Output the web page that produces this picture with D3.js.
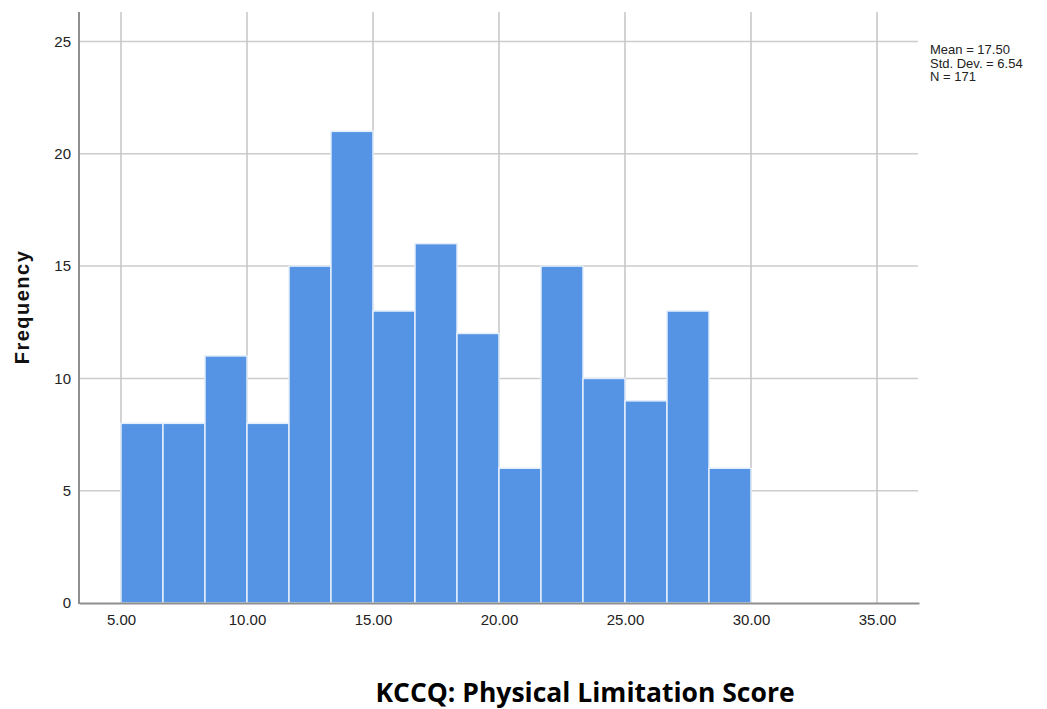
<!DOCTYPE html>
<html>
<head>
<meta charset="utf-8">
<script src="https://cdn.jsdelivr.net/npm/d3@7"></script>
<style>
  body { margin: 0; background: #fff; }
  svg { display: block; }
</style>
</head>
<body>
<div class="chart"></div>
<script>
// histogram bins: start of each bin, bin width 5/3
const binStarts = [5, 6.667, 8.333, 10, 11.667, 13.333, 15, 16.667, 18.333, 20, 21.667, 23.333, 25, 26.667, 28.333];
const binWidth = 1.6667;
const counts = [8, 8, 11, 8, 15, 21, 13, 16, 12, 6, 15, 10, 9, 13, 6];
const xTicks = [5, 10, 15, 20, 25, 30, 35];
const yTicks = [0, 5, 10, 15, 20, 25];
const statLines = ["Mean = 17.50", "Std. Dev. = 6.54", "N = 171"];

const sansFont = "'Liberation Sans', Arial, sans-serif";

function drawHistogram() {
  const width = 1047;
  const height = 709;
  const plot = {left: 79, right: 919, top: 12, bottom: 603};

  const svg = d3.select(".chart").append("svg")
    .attr("width", width)
    .attr("height", height);

  const xScale = d3.scaleLinear()
    .domain([3.3333, 36.6667])
    .range([plot.left, plot.right]);

  const yScale = d3.scaleLinear()
    .domain([0, 25])
    .range([plot.bottom, 41.5]);

  // gridlines
  svg.append("g")
    .selectAll("line")
    .data(yTicks.filter(d => d > 0))
    .enter()
    .append("line")
      .attr("x1", plot.left)
      .attr("x2", plot.right - 1)
      .attr("y1", d => yScale(d))
      .attr("y2", d => yScale(d))
      .attr("stroke", "#cccccc")
      .attr("stroke-width", 1.5);

  svg.append("g")
    .selectAll("line")
    .data(xTicks)
    .enter()
    .append("line")
      .attr("x1", d => xScale(d))
      .attr("x2", d => xScale(d))
      .attr("y1", plot.top)
      .attr("y2", plot.bottom)
      .attr("stroke", "#c4c4c4")
      .attr("stroke-width", 1.5);

  // bars
  svg.append("g")
    .selectAll("rect")
    .data(counts)
    .enter()
    .append("rect")
      .attr("x", (d, i) => xScale(binStarts[i]))
      .attr("y", d => yScale(d))
      .attr("width", (d, i) => xScale(binStarts[i] + binWidth) - xScale(binStarts[i]))
      .attr("height", d => yScale(0) - yScale(d))
      .attr("fill", "#5594e5")
      .attr("stroke", "#e3eefb")
      .attr("stroke-width", 1.5);

  // axes
  const xAxis = d3.axisBottom(xScale)
    .tickValues(xTicks)
    .tickFormat(d3.format(".2f"))
    .tickSize(0)
    .tickPadding(11);
  const gx = svg.append("g")
    .attr("transform", `translate(0, ${plot.bottom})`)
    .call(xAxis)
    .attr("font-family", sansFont)
    .attr("font-size", 15);
  gx.select(".domain").attr("stroke", "#8f8f8f").attr("stroke-width", 2);
  gx.selectAll("text").attr("fill", "#222");

  const yAxis = d3.axisLeft(yScale)
    .tickValues(yTicks)
    .tickSize(0)
    .tickPadding(8);
  const gy = svg.append("g")
    .attr("transform", `translate(${plot.left}, 0)`)
    .call(yAxis)
    .attr("font-family", sansFont)
    .attr("font-size", 15);
  gy.select(".domain").remove();
  gy.selectAll("text").attr("fill", "#222");

  svg.append("line")
    .attr("x1", plot.left)
    .attr("x2", plot.left)
    .attr("y1", plot.top)
    .attr("y2", plot.bottom + 1)
    .attr("stroke", "#8f8f8f")
    .attr("stroke-width", 2);

  // axis titles
  svg.append("text")
    .attr("transform", `translate(29, 307) rotate(-90)`)
    .attr("text-anchor", "middle")
    .attr("font-family", sansFont)
    .attr("font-weight", "bold")
    .attr("font-size", "20px")
    .attr("letter-spacing", "1.5px")
    .attr("fill", "#111")
    .text("Frequency");

  svg.append("text")
    .attr("x", 585)
    .attr("y", 702)
    .attr("text-anchor", "middle")
    .attr("font-family", "'Open Sans', sans-serif")
    .attr("font-weight", "bold")
    .attr("font-size", "26.5px")
    .attr("fill", "#000")
    .text("KCCQ: Physical Limitation Score");

  // stats legend
  svg.append("g")
    .selectAll("text")
    .data(statLines)
    .enter()
    .append("text")
      .attr("x", 930)
      .attr("y", (d, i) => 54 + i * 13.5)
      .attr("font-family", sansFont)
      .attr("font-size", "13px")
      .attr("fill", "#222")
      .text(d => d);
}

drawHistogram();
</script>
</body>
</html>
